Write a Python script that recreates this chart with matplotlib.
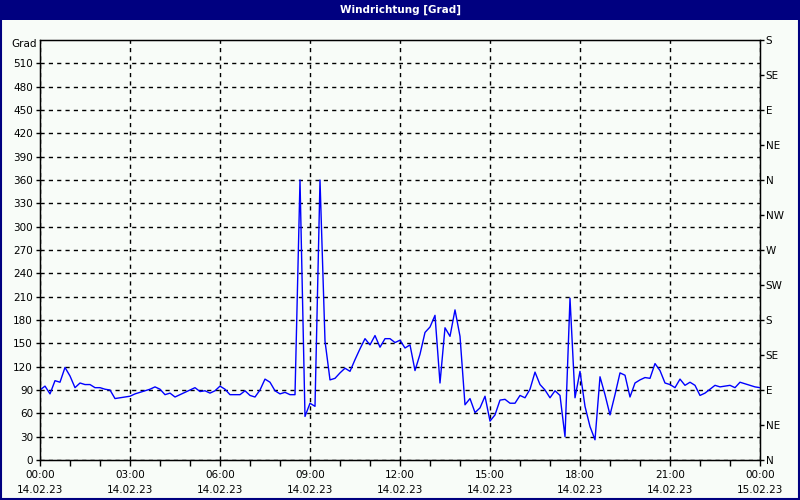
import pandas as pd
import matplotlib
matplotlib.use('Agg')
import matplotlib.pyplot as plt
import matplotlib.dates as mdates
import matplotlib.patches as mpatches

# wind direction every 10 minutes, 14.02.23 00:00 .. 15.02.23 00:00
direction = [
    90, 95, 85, 102, 100, 119, 108, 93, 99, 97, 97, 93, 93, 91, 90, 79,
    80, 81, 82, 85, 87, 89, 91, 94, 91, 84, 86, 81, 84, 87, 90, 93,
    88, 89, 86, 89, 95, 91, 84, 84, 84, 89, 83, 81, 90, 104, 100, 89,
    85, 87, 84, 84, 360, 56, 73, 69, 360, 153, 103, 105, 112, 118, 114, 129,
    143, 156, 148, 160, 145, 156, 156, 151, 154, 144, 148, 115, 136, 164, 171, 186,
    99, 170, 159, 193, 159, 71, 79, 61, 67, 82, 50, 58, 77, 78, 73, 73,
    83, 80, 91, 113, 97, 90, 80, 89, 83, 30, 208, 80, 114, 69, 43, 26,
    107, 84, 58, 84, 112, 109, 81, 99, 103, 106, 105, 124, 115, 99, 97, 93,
    104, 96, 100, 96, 83, 86, 91, 96, 94, 95, 96, 93, 100, 98, 96, 94, 93,
]
times = pd.date_range('2023-02-14 00:00', periods=len(direction), freq='10min')

left_ticks = list(range(0, 540, 30))
compass_ticks = list(range(0, 541, 45))
compass_labels = ['N', 'NE', 'E', 'SE', 'S', 'SW', 'W', 'NW', 'N', 'NE', 'E', 'SE', 'S']

bg = '#f8fcf8'
navy = '#000080'
fs = 7.5

fig = plt.figure(figsize=(8, 5), dpi=100, facecolor=bg)
axe = fig.add_axes([40 / 800, 40 / 500, 720 / 800, 420 / 500])
axe.set_facecolor(bg)

axe.plot(times, direction, color='#0000ff', linewidth=1, zorder=3)

axe.set_ylim(0, 540)
axe.set_xlim(times[0], times[-1])
axe.set_yticks(left_ticks)
axe.tick_params(axis='y', length=3, width=1, pad=2, labelsize=fs, direction='out')

axe.xaxis.set_major_locator(mdates.HourLocator(interval=3))
axe.xaxis.set_minor_locator(mdates.HourLocator(interval=1))
axe.xaxis.set_major_formatter(mdates.DateFormatter('%H:%M\n%d.%m.%y'))
axe.tick_params(axis='x', which='major', length=4, width=1, pad=3, labelsize=fs)
axe.tick_params(axis='x', which='minor', length=4, width=1)
for lbl in axe.get_xticklabels():
    lbl.set_linespacing(1.7)

axe.grid(True, which='major', color='black', linestyle=(0, (3, 3)), linewidth=1)
for s in axe.spines.values():
    s.set_linewidth(1)

# compass scale on the right
right = axe.twinx()
right.set_ylim(0, 540)
right.set_yticks(compass_ticks)
right.set_yticklabels(compass_labels)
right.tick_params(axis='y', length=3, width=1, pad=1, labelsize=fs)

fig.text(37 / 800, 1 - 44 / 500, 'Grad', ha='right', va='center', fontsize=fs)

# title bar and frame
fig.patches.append(mpatches.Rectangle((0, 1 - 20 / 500), 1, 20 / 500, transform=fig.transFigure,
                                      facecolor=navy, edgecolor='none', zorder=0))
fig.patches.append(mpatches.Rectangle((1 / 800, 1 / 500), 798 / 800, 497 / 500, transform=fig.transFigure,
                                      facecolor='none', edgecolor=navy, linewidth=1.5))
fig.text(0.5, 1 - 10 / 500, 'Windrichtung [Grad]', ha='center', va='center',
         color='white', fontsize=fs, fontweight='bold')

fig.savefig('out.png', dpi=100, facecolor=bg)
